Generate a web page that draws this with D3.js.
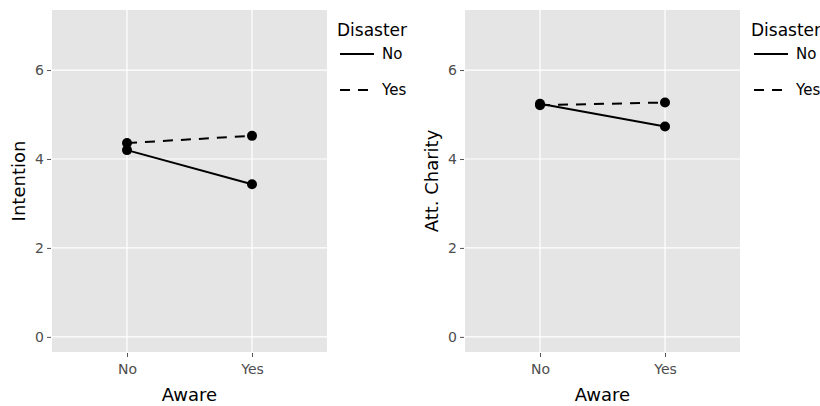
<!DOCTYPE html>
<html>
<head>
<meta charset="utf-8">
<script src="https://cdn.jsdelivr.net/npm/d3@7"></script>
<style>
  body { margin: 0; background: #fff; }
  text { font-family: "DejaVu Sans", sans-serif; }
</style>
</head>
<body>
<div id="chart"></div>
<script>
// Datos
const aware = ['No', 'Yes'];
const disaster = ['No', 'Yes'];
const yTicks = [0, 2, 4, 6];
const intencionNo = [4.20, 3.43];
const intencionYes = [4.36, 4.52];
const caridadNo = [5.24, 4.73];
const caridadYes = [5.21, 5.27];

const width = 820;
const height = 406;

const svg = d3.select('#chart').append('svg')
  .attr('width', width)
  .attr('height', height);

// Dibujar un panel
function dibujarPanel(x0, x1, serieNo, serieYes, titulo, legendX) {
  const top = 10, bottom = 352;

  const x = d3.scalePoint().domain(aware).range([x0, x1]).padding(0.6);
  // rango de y como ggplot (expansion)
  const y = d3.scaleLinear().domain([-0.34, 7.35]).range([bottom, top]);

  const g = svg.append('g');

  g.append('rect')
    .attr('x', x0).attr('y', top)
    .attr('width', x1 - x0).attr('height', bottom - top)
    .attr('fill', '#e5e5e5');

  // grid
  g.selectAll('.gy').data(yTicks).enter().append('line')
    .attr('x1', x0).attr('x2', x1)
    .attr('y1', d => y(d)).attr('y2', d => y(d))
    .attr('stroke', '#fff').attr('stroke-width', 1.2);
  g.selectAll('.gx').data(aware).enter().append('line')
    .attr('x1', d => x(d)).attr('x2', d => x(d))
    .attr('y1', top).attr('y2', bottom)
    .attr('stroke', '#fff').attr('stroke-width', 1.2);

  // ejes
  const ejeY = d3.axisLeft(y).tickValues(yTicks).tickSize(4).tickPadding(3);
  const gy = g.append('g').attr('transform', `translate(${x0 - 1},0)`).call(ejeY);
  const ejeX = d3.axisBottom(x).tickSize(4).tickPadding(7);
  const gx = g.append('g').attr('transform', `translate(0,${bottom + 1})`).call(ejeX);
  [gy, gx].forEach(a => {
    a.select('.domain').remove();
    a.selectAll('line').attr('stroke', '#555');
    a.selectAll('text').attr('fill', '#4d4d4d').style('font-size', '14px')
      .style('font-family', '"DejaVu Sans", sans-serif');
  });

  g.append('text')
    .attr('x', (x0 + x1) / 2).attr('y', 401)
    .attr('text-anchor', 'middle')
    .style('font-size', '18px')
    .text('Aware');

  g.append('text')
    .attr('transform', `translate(${x0 - 27},${(top + bottom) / 2}) rotate(-90)`)
    .attr('text-anchor', 'middle')
    .style('font-size', '18px')
    .text(titulo);

  // lineas
  const linea = d3.line().x((d, i) => x(aware[i])).y(d => y(d));
  const series = [
    { valores: serieNo, dash: null },
    { valores: serieYes, dash: '10,8' }
  ];
  series.forEach(s => {
    g.append('path')
      .attr('d', linea(s.valores))
      .attr('fill', 'none')
      .attr('stroke', '#000')
      .attr('stroke-width', 2)
      .attr('stroke-dasharray', s.dash);
    g.selectAll(null).data(s.valores).enter().append('circle')
      .attr('cx', (d, i) => x(aware[i]))
      .attr('cy', d => y(d))
      .attr('r', 5)
      .attr('fill', '#000');
  });

  // leyenda
  const leg = g.append('g').attr('transform', `translate(${legendX},0)`);
  leg.append('text').attr('x', 0).attr('y', 36)
    .style('font-size', '17px').text('Disaster');
  disaster.forEach((d, i) => {
    const ly = 54 + i * 36;
    leg.append('line')
      .attr('x1', 3).attr('x2', 37)
      .attr('y1', ly).attr('y2', ly)
      .attr('stroke', '#000').attr('stroke-width', 2)
      .attr('stroke-dasharray', series[i].dash);
    leg.append('text').attr('x', 45).attr('y', ly + 5)
      .style('font-size', '15px').text(d);
  });
}

dibujarPanel(52, 327, intencionNo, intencionYes, 'Intention', 337);
dibujarPanel(465, 740, caridadNo, caridadYes, 'Att. Charity', 751);
</script>
</body>
</html>
